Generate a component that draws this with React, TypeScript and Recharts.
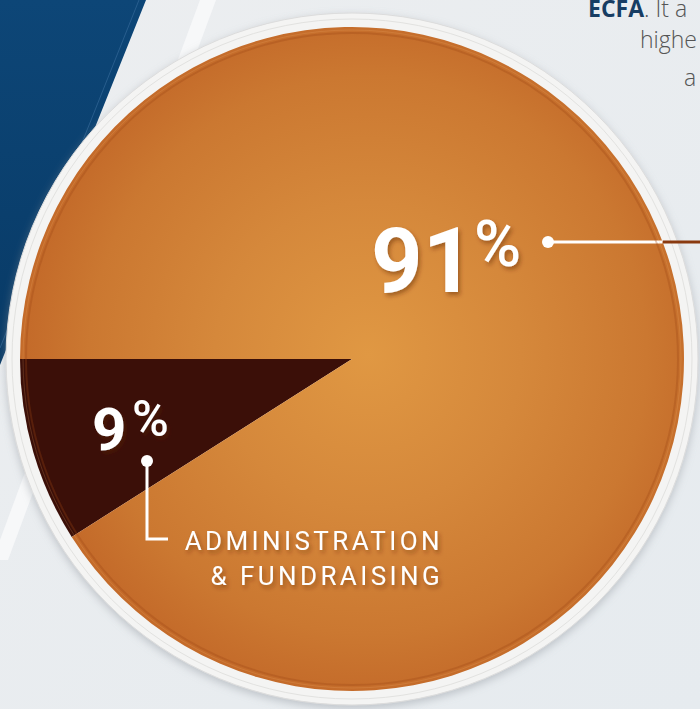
import { PieChart, Pie, Cell } from 'recharts';

const categories = ['Administration & Fundraising', 'Programs'];
const values = [9, 91];
const sliceColors = ['#3b0f08', 'url(#orangeGrad)'];
const nameLines = [['ADMINISTRATION', '& FUNDRAISING'], []];

const pieData = categories.map((name, i) => ({ name, value: values[i] }));

const W = 700;
const H = 709;
const CX = 352;
const CY = 359;
const R = 332;

const font = 'Roboto, "Noto Sans", sans-serif';

function renderLabel(props: any) {
  const { cx, cy, index, value } = props;
  if (index === 1) {
    const dotX = cx + 196;
    const dotY = cy - 117;
    const edgeX = cx + Math.sqrt(R * R - 117 * 117);
    return (
      <g key="lbl-1">
        <text x={cx + 19} y={cy - 67} fontFamily={font} fontWeight={700} fontSize={90} fill="#fff" filter="url(#txtShadow)">
          {value}
        </text>
        <text x={cx + 122} y={cy - 93} fontFamily={font} fontWeight={500} fontSize={64} fill="#fff" filter="url(#txtShadow)">
          %
        </text>
        <line x1={dotX} y1={dotY} x2={edgeX} y2={dotY} stroke="#fff" strokeWidth={3} />
        <line x1={edgeX} y1={dotY} x2={W} y2={dotY} stroke="#8a3a10" strokeWidth={3} />
        <circle cx={dotX} cy={dotY} r={6} fill="#fff" />
      </g>
    );
  }
  const dotX = cx - 205;
  const dotY = cy + 102;
  const lines = nameLines[index];
  return (
    <g key="lbl-0">
      <text x={cx - 260} y={cy + 91} fontFamily={font} fontWeight={700} fontSize={60} fill="#fff" filter="url(#txtShadow)">
        {value}
      </text>
      <text x={cx - 220} y={cy + 77} fontFamily={font} fontWeight={500} fontSize={50} fill="#fff" filter="url(#txtShadow)">
        %
      </text>
      <polyline points={`${dotX},${dotY} ${dotX},${cy + 180} ${cx - 184},${cy + 180}`} fill="none" stroke="#fff" strokeWidth={3} />
      <circle cx={dotX} cy={dotY} r={6} fill="#fff" />
      {lines.map((t, i) => (
        <text key={t} x={cx + 91} y={cy + 191 + i * 35} textAnchor="end" fontFamily={font} fontWeight={400} fontSize={26} letterSpacing={3.4} fill="#fff" filter="url(#txtShadow)">
          {t}
        </text>
      ))}
    </g>
  );
}

export default function App() {
  return (
    <div style={{ position: 'absolute', left: 0, top: 0, width: W, height: H, overflow: 'hidden', background: '#e8ebee' }}>
      <svg width={W} height={H} style={{ position: 'absolute', left: 0, top: 0 }}>
        <defs>
          <radialGradient id="orangeGrad" gradientUnits="userSpaceOnUse" cx={368} cy={355} r={340}>
            <stop offset="0%" stopColor="#e09843" />
            <stop offset="45%" stopColor="#d5883b" />
            <stop offset="82%" stopColor="#cb7831" />
            <stop offset="100%" stopColor="#c46b2a" />
          </radialGradient>
          <linearGradient id="bgGrad" x1="0" y1="0" x2="1" y2="1">
            <stop offset="0%" stopColor="#eceef0" />
            <stop offset="100%" stopColor="#e6ebef" />
          </linearGradient>
          <linearGradient id="blueGrad" x1="0" y1="0" x2="0" y2="1">
            <stop offset="0%" stopColor="#0d4677" />
            <stop offset="100%" stopColor="#083a66" />
          </linearGradient>
          <filter id="txtShadow" x="-20%" y="-20%" width="140%" height="150%">
            <feDropShadow dx={2} dy={3} stdDeviation={2} floodColor="#5a2608" floodOpacity={0.45} />
          </filter>
          <filter id="rimShadow" x="-10%" y="-10%" width="120%" height="120%">
            <feDropShadow dx={0} dy={3} stdDeviation={4} floodColor="#8a9098" floodOpacity={0.45} />
          </filter>
        </defs>
        <rect x={0} y={0} width={W} height={H} fill="url(#bgGrad)" />
        <polygon points="0,0 146,0 0,365" fill="url(#blueGrad)" />
        <line x1={139} y1={0} x2={0} y2={348} stroke="#3a6e9e" strokeWidth={1} opacity={0.6} />
        <polygon points="200,0 216,0 8,560 0,560 0,540" fill="#f7f8f9" />
        <text x={588} y={17} fontFamily='"Open Sans", sans-serif' fontSize={23} fill="#555">
          <tspan fontWeight={700} fill="#173d63">ECFA</tspan>
          <tspan fontWeight={300}>. It a</tspan>
        </text>
        <text x={640} y={48} fontFamily='"Open Sans", sans-serif' fontWeight={300} fontSize={23} fill="#555">
          highe
        </text>
        <text x={684} y={86} fontFamily='"Open Sans", sans-serif' fontWeight={300} fontSize={23} fill="#555">
          a
        </text>
        <circle cx={CX} cy={CY} r={346} fill="#f4f4f3" stroke="#dcdcdc" strokeWidth={1} filter="url(#rimShadow)" />
        <circle cx={CX} cy={CY} r={340} fill="none" stroke="#e2e2e0" strokeWidth={1} />
      </svg>
      <div style={{ position: 'absolute', left: 0, top: 0 }}>
        <PieChart width={W} height={H} margin={{ top: 0, right: 0, bottom: 0, left: 0 }}>
          <Pie
            data={pieData}
            dataKey="value"
            nameKey="name"
            cx={CX}
            cy={CY}
            outerRadius={R}
            startAngle={180}
            endAngle={540}
            stroke="none"
            label={renderLabel}
            labelLine={false}
            isAnimationActive={false}
          >
            {pieData.map((d, i) => (
              <Cell key={d.name} fill={sliceColors[i]} />
            ))}
          </Pie>
        </PieChart>
      </div>
      <svg width={W} height={H} style={{ position: 'absolute', left: 0, top: 0, pointerEvents: 'none' }}>
        <circle cx={CX} cy={CY} r={326} fill="none" stroke="#9a4515" strokeWidth={2} opacity={0.3} />
        <circle cx={CX} cy={CY} r={329} fill="none" stroke="#f0b070" strokeWidth={1} opacity={0.2} />
      </svg>
    </div>
  );
}
